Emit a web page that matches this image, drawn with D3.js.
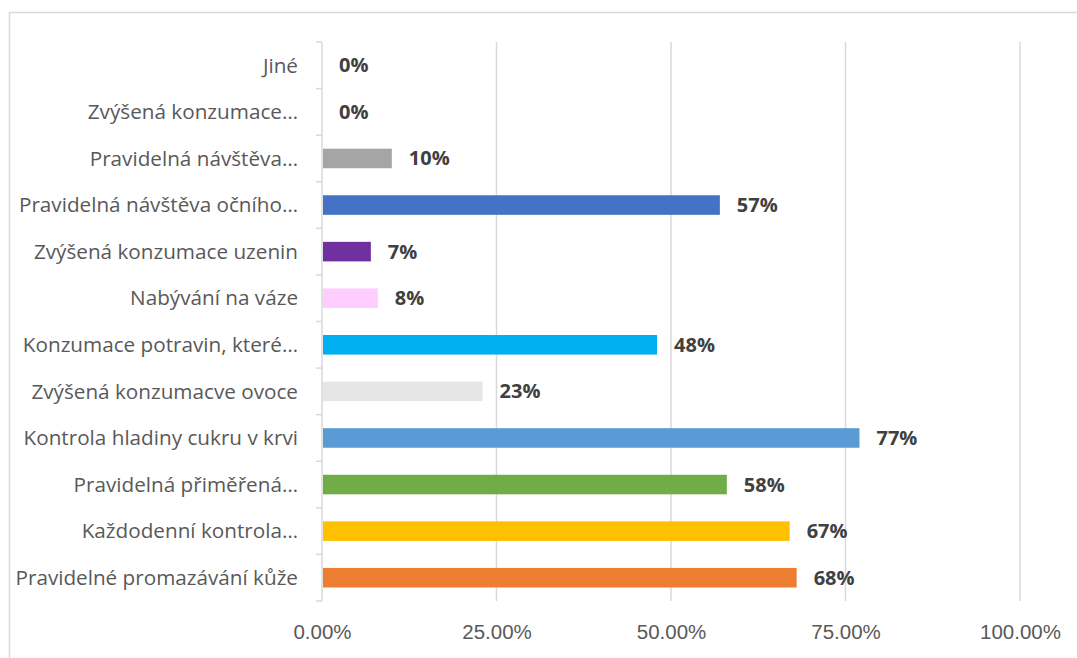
<!DOCTYPE html>
<html>
<head>
<meta charset="utf-8">
<script src="https://cdn.jsdelivr.net/npm/d3@7/dist/d3.min.js"></script>
<style>
  html, body { margin: 0; padding: 0; background: #ffffff; }
  svg { display: block; font-family: "Open Sans", "Noto Sans", sans-serif; }
</style>
</head>
<body>
<svg id="chart" width="1077" height="658"></svg>
<script>
// Categories, listed from top to bottom
const categories = [
  "Jiné",
  "Zvýšená konzumace…",
  "Pravidelná návštěva…",
  "Pravidelná návštěva očního…",
  "Zvýšená konzumace uzenin",
  "Nabývání na váze",
  "Konzumace potravin, které…",
  "Zvýšená konzumacve ovoce",
  "Kontrola hladiny cukru v krvi",
  "Pravidelná přiměřená…",
  "Každodenní kontrola…",
  "Pravidelné promazávání kůže"
];
// Share of respondents for each category
const values = [0, 0, 0.10, 0.57, 0.07, 0.08, 0.48, 0.23, 0.77, 0.58, 0.67, 0.68];
// Bar fill for each category
const barColors = [
  "#A5A5A5", "#A5A5A5", "#A5A5A5", "#4472C4", "#7030A0", "#FFCCFF",
  "#00B0F0", "#E7E6E6", "#5B9BD5", "#70AD47", "#FFC000", "#ED7D31"
];
// Value axis ticks
const xTicks = [0, 0.25, 0.5, 0.75, 1];

const data = categories.map((c, i) => ({ cat: c, value: values[i], color: barColors[i] }));

const svg = d3.select("#chart");

// Chart frame
svg.append("rect")
  .attr("x", 9.5).attr("y", 12.5)
  .attr("width", 1100).attr("height", 700)
  .attr("fill", "#ffffff")
  .attr("stroke", "#d9d9d9")
  .attr("stroke-width", 1.5);

const plot = { left: 322, right: 1020, top: 42, bottom: 601 };

const x = d3.scaleLinear().domain([0, 1]).range([plot.left, plot.right]);
const y = d3.scaleBand().domain(categories).range([plot.top, plot.bottom])
  .paddingInner(0.58).paddingOuter(0.29);

// Vertical gridlines
svg.append("g")
  .selectAll("line")
  .data(xTicks.filter(d => d > 0))
  .join("line")
  .attr("x1", d => x(d)).attr("x2", d => x(d))
  .attr("y1", plot.top).attr("y2", plot.bottom)
  .attr("stroke", "#d9d9d9")
  .attr("stroke-width", 1.5);

// Bottom value axis (labels only)
const xAxis = svg.append("g")
  .attr("transform", `translate(0,${plot.bottom})`)
  .call(d3.axisBottom(x).tickValues(xTicks).tickFormat(d3.format(".2%")).tickSize(0).tickPadding(23));
xAxis.select(".domain").remove();
xAxis.selectAll("text")
  .attr("fill", "#595959")
  .style("font-size", "20.5px");

// Category axis line with ticks at band boundaries
const step = y.step();
const boundaries = d3.range(categories.length + 1).map(i => plot.top + i * step);
const yAxisG = svg.append("g");
yAxisG.append("line")
  .attr("x1", plot.left).attr("x2", plot.left)
  .attr("y1", plot.top).attr("y2", plot.bottom)
  .attr("stroke", "#d9d9d9").attr("stroke-width", 1.5);
yAxisG.selectAll("line.tick")
  .data(boundaries)
  .join("line")
  .attr("class", "tick")
  .attr("x1", plot.left - 6).attr("x2", plot.left)
  .attr("y1", d => d).attr("y2", d => d)
  .attr("stroke", "#d9d9d9").attr("stroke-width", 1.5);

// Category labels
svg.append("g")
  .selectAll("text")
  .data(data)
  .join("text")
  .attr("x", plot.left - 24)
  .attr("y", d => y(d.cat) + y.bandwidth() / 2)
  .attr("dy", "0.35em")
  .attr("text-anchor", "end")
  .attr("fill", "#595959")
  .style("font-size", "20.7px")
  .text(d => d.cat);

// Bars
svg.append("g")
  .selectAll("rect")
  .data(data.filter(d => d.value > 0))
  .join("rect")
  .attr("x", x(0) + 1)
  .attr("y", d => y(d.cat))
  .attr("width", d => x(d.value) - x(0) - 1)
  .attr("height", y.bandwidth())
  .attr("fill", d => d.color);

// Value labels
svg.append("g")
  .selectAll("text")
  .data(data)
  .join("text")
  .attr("x", d => x(d.value) + 17)
  .attr("y", d => y(d.cat) + y.bandwidth() / 2)
  .attr("dy", "0.35em")
  .attr("fill", "#404040")
  .style("font-size", "20px")
  .style("font-weight", "bold")
  .text(d => d3.format(".0%")(d.value));
</script>
</body>
</html>
